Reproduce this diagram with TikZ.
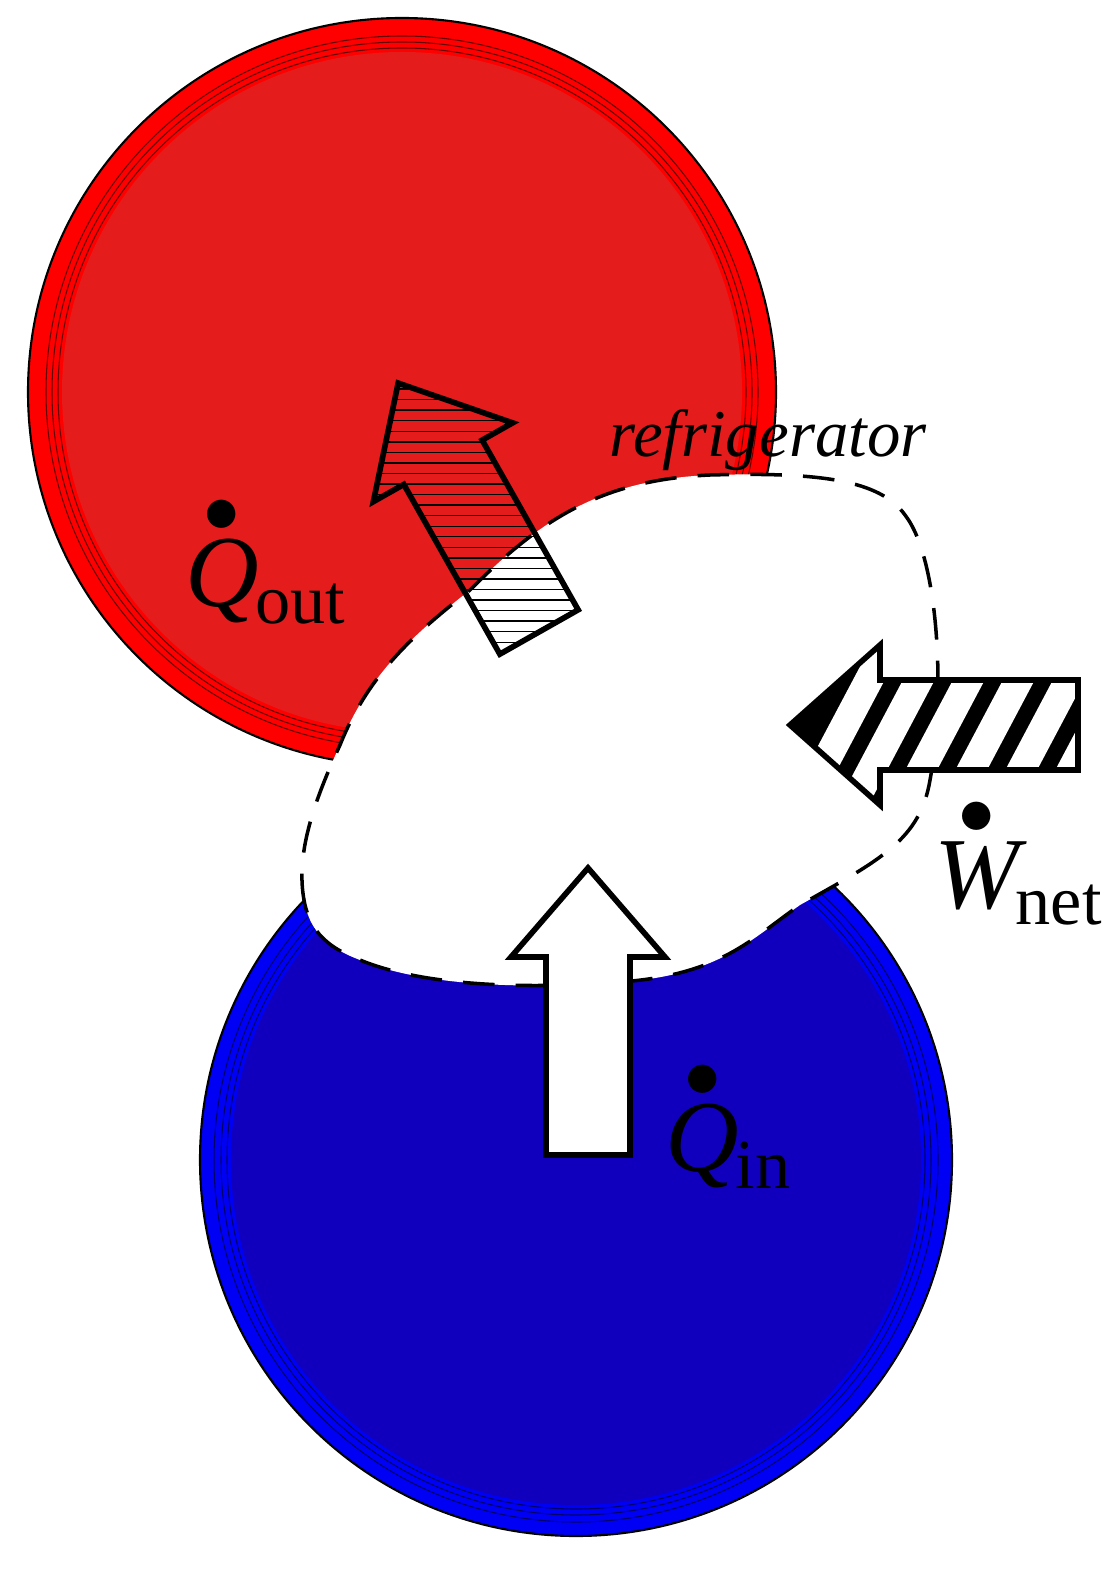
\documentclass[tikz,border=0pt]{standalone}
\usepackage{fontspec}
\setmainfont{Liberation Serif}
\usetikzlibrary{patterns}
\definecolor{hotrim}{RGB}{255,0,0}
\definecolor{hotin}{RGB}{228,28,28}
\definecolor{coldrim}{RGB}{0,0,245}
\definecolor{coldin}{RGB}{16,0,190}
\newcommand{\ratelbl}[2]{$\stackrel{\bullet}{\textit{#1}}$\kern-1pt\raisebox{-0.35ex}{\fontsize{20}{20}\selectfont #2}}
\tikzset{
  reservoir/.style={draw=black, line width=0.6pt},
  flow/.style={draw=black, line width=1.6pt, line join=miter},
  lbl/.style={font=\fontsize{29}{29}\selectfont, inner sep=0pt}
}
\begin{document}
\begin{tikzpicture}[x=0.01cm,y=-0.01cm]
\useasboundingbox (0,0) rectangle (1104,1583);
% hot reservoir
\fill[hotrim, reservoir] (402,392) circle (374);
\fill[hotin] (402,392) circle (340);
\foreach \r in {344,350,356} {
  \draw[black!60!red, line width=0.3pt] (402,392) circle (\r);
}
% cold reservoir
\fill[coldrim, reservoir] (576,1160) circle (376);
\fill[coldin] (576,1160) circle (345);
\foreach \r in {349,355,362} {
  \draw[black!60!blue, line width=0.3pt] (576,1160) circle (\r);
}
% refrigerator boundary
\draw[fill=white, dashed, line width=1pt, dash pattern=on 9pt off 6pt]
  (305,905) .. controls (295,860) and (310,810) .. (340,745)
  .. controls (370,670) and (420,630) .. (470,590)
  .. controls (540,520) and (600,480) .. (710,475)
  .. controls (820,472) and (880,480) .. (905,515)
  .. controls (940,560) and (945,700) .. (930,780)
  .. controls (920,840) and (880,860) .. (800,905)
  .. controls (750,940) and (720,975) .. (620,982)
  .. controls (520,990) and (420,985) .. (360,960)
  .. controls (320,945) and (310,925) .. (305,905) -- cycle;
\node[font=\fontsize{19}{19}\selectfont\itshape, inner sep=0pt] (fridge) at (768,440) {refrigerator};
% heat rejected
\begin{scope}[shift={(539,632)}, rotate=119.5]
  \path[flow, pattern=horizontal lines]
    (0,-45) -- (195,-45) -- (195,-80) -- (286,0) -- (195,80) -- (195,45) -- (0,45) -- cycle;
\end{scope}
\node[lbl] (qout) at (265,560) {\ratelbl{Q}{out}};
% heat absorbed
\draw[flow, fill=white] (546,1155) -- (546,957) -- (511,957) -- (588,868)
  -- (665,957) -- (630,957) -- (630,1155) -- cycle;
\node[lbl] (qin) at (728,1125) {\ratelbl{Q}{in}};
% work input
\begin{scope}
  \path[clip] (1078,680) -- (880,680) -- (880,645) -- (790,725) -- (880,805)
    -- (880,770) -- (1078,770) -- cycle;
  \fill[black] (780,640) rectangle (1090,810);
  \foreach \x in {800,850,...,1100} {
    \draw[white, line width=8pt] (\x,810) -- (\x+90,640);
  }
\end{scope}
\draw[flow] (1078,680) -- (880,680) -- (880,645) -- (790,725) -- (880,805)
  -- (880,770) -- (1078,770) -- cycle;
\node[lbl] (wnet) at (1018,862) {\ratelbl{W}{net}};
\end{tikzpicture}
\end{document}
